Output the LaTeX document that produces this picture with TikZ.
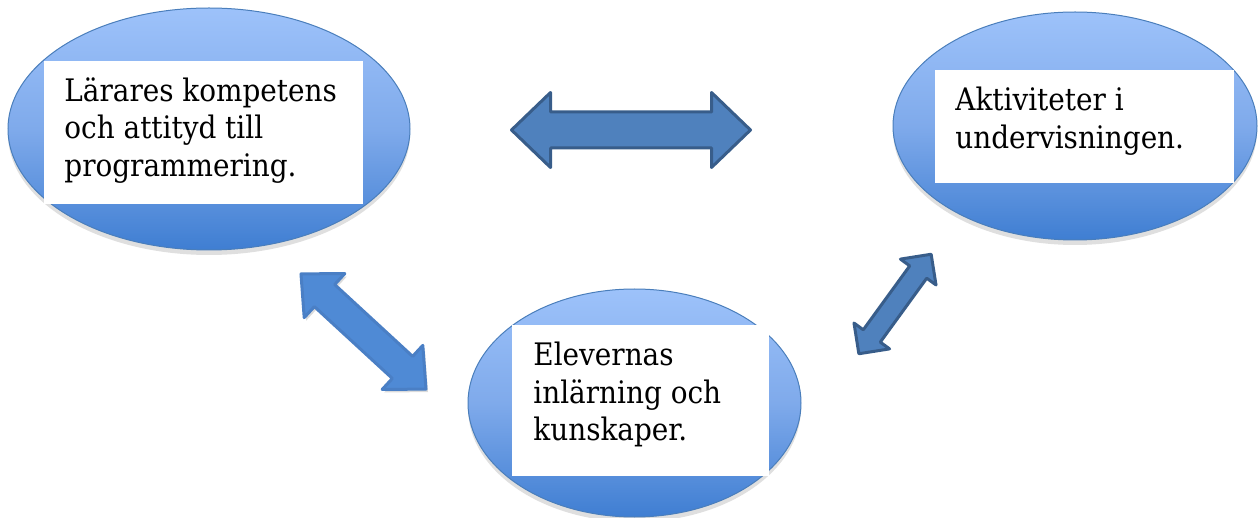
\documentclass[tikz,border=0pt]{standalone}
\usepackage{fontspec}
\setmainfont{DejaVu Serif Condensed}
\usetikzlibrary{shapes.geometric,shadows}
\definecolor{topblue}{HTML}{9DC2FA}
\definecolor{midblue}{HTML}{7FAAEB}
\definecolor{botblue}{HTML}{3F7ED2}
\definecolor{edgeblue}{HTML}{4A7EBB}
\definecolor{arrfill}{HTML}{4F81BD}
\definecolor{arrline}{HTML}{385D8A}
\definecolor{arrfillb}{HTML}{4F8AD5}
\definecolor{arrlineb}{HTML}{4A7FC5}
\tikzset{
  blob/.style={ellipse, draw=edgeblue, line width=0.5pt, top color=topblue, bottom color=botblue, middle color=midblue, inner sep=0pt,
    drop shadow={shadow xshift=0pt, shadow yshift=-2.5pt, opacity=0.18, fill=black!70}},
  tbox/.style={rectangle, fill=white, inner sep=0pt},
  txt/.style={anchor=north west, inner sep=0pt, align=left, font=\fontsize{15.5}{18.75}\selectfont},
  arrdark/.style={fill=arrfill, draw=arrline, line width=1.5pt, line join=round},
  arrlight/.style={fill=arrfillb, draw=arrlineb, line width=1.5pt, line join=round,
    drop shadow={shadow xshift=1pt, shadow yshift=-1.5pt, opacity=0.2, fill=black!70}}
}
% #1 style, #2 centre, #3 angle, #4 length, #5 head length, #6 head width, #7 shaft width
\newcommand{\DArr}[7]{\begin{scope}[shift={#2},rotate=#3]
\path[#1] (-#4/2,0) -- (-#4/2+#5,#6/2) -- (-#4/2+#5,#7/2) -- (#4/2-#5,#7/2) -- (#4/2-#5,#6/2) -- (#4/2,0)
  -- (#4/2-#5,-#6/2) -- (#4/2-#5,-#7/2) -- (-#4/2+#5,-#7/2) -- (-#4/2+#5,-#6/2) -- cycle;
\end{scope}}
\begin{document}
\begin{tikzpicture}[x=0.5pt,y=-0.5pt]
\useasboundingbox (0,0) rectangle (1259,518);
% ellipses
\node (L) [blob, minimum width=201pt, minimum height=121pt] at (209,129) {};
\node (R) [blob, minimum width=182pt, minimum height=114pt] at (1075,126) {};
\node (B) [blob, minimum width=166.5pt, minimum height=114pt] at (634.5,403) {};
% white boxes
\node (Lb) [tbox, minimum width=159.5pt, minimum height=71.5pt] at (203.5,132.5) {};
\node (Rb) [tbox, minimum width=149.5pt, minimum height=56.5pt] at (1084.5,126.5) {};
\node (Bb) [tbox, minimum width=128.5pt, minimum height=75.5pt] at (640.5,400.5) {};
% texts
\node (Lt) [txt] at (64,77) {Lärares kompetens\\och attityd till\\programmering.};
\node (Rt) [txt] at (955,87) {Aktiviteter i\\undervisningen.};
\node (Bt) [txt] at (533,342) {Elevernas\\inlärning och\\kunskaper.};
% arrows
\DArr{arrdark}{(631,130)}{0}{239}{39}{75}{36}
\DArr{arrlight}{(363.5,331.5)}{-42.65}{170}{32}{60}{30}
\DArr{arrdark}{(895,304)}{54}{123}{22}{44}{21}
\end{tikzpicture}
\end{document}
